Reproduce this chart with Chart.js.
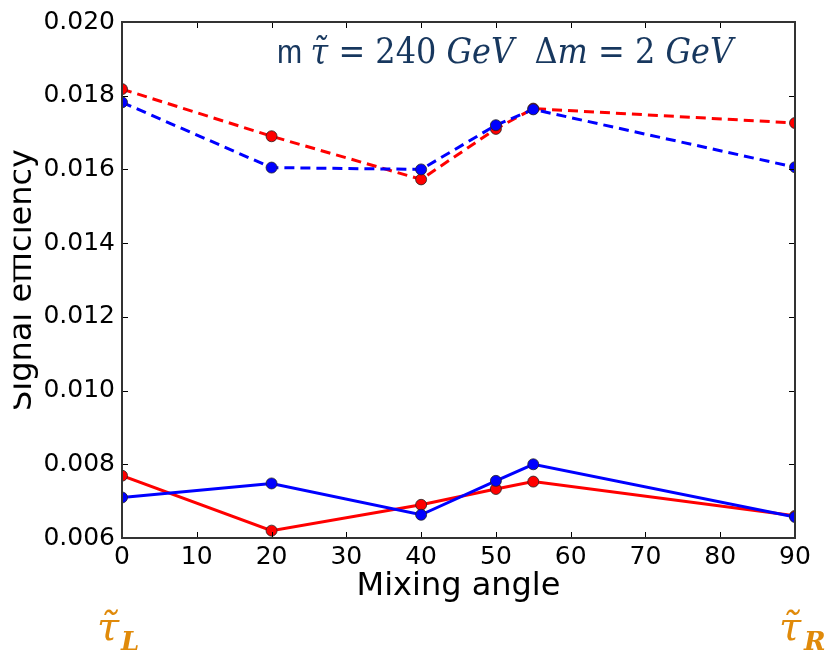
<!DOCTYPE html>
<html>
<head>
<meta charset="utf-8">
<script src="https://cdn.jsdelivr.net/npm/chart.js@4.4.1/dist/chart.umd.min.js"></script>
<style>
  html, body { margin: 0; padding: 0; background: #fff; }
  #wrap { width: 825px; height: 652px; }
</style>
</head>
<body>
<div id="wrap"><canvas id="chart1"></canvas></div>
<script>
'use strict';

// mixing angle (deg)
const angles = [0, 20, 40, 50, 55, 90];
// dashed curves (upper)
const blueDashed = [0.01782, 0.01605, 0.01600, 0.01720, 0.01763, 0.01606];
const redDashed  = [0.01818, 0.01690, 0.01573, 0.01710, 0.01765, 0.01726];
// solid curves (lower)
const blueSolid = [0.00710, 0.00748, 0.00663, 0.00755, 0.00800, 0.00657];
const redSolid  = [0.00769, 0.00620, 0.00690, 0.00733, 0.00753, 0.00660];

const xTicks = [0, 10, 20, 30, 40, 50, 60, 70, 80, 90];
const yTicks = [0.006, 0.008, 0.010, 0.012, 0.014, 0.016, 0.018, 0.020];

function pts(ys) {
    return angles.map(function (a, i) { return {x: a, y: ys[i]}; });
}

function series(ys, color, dashed) {
    return {
        data: pts(ys),
        borderColor: color,
        backgroundColor: color,
        borderWidth: 3,
        borderDash: dashed ? [10, 6] : [],
        pointRadius: 5.5,
        pointBorderColor: '#222',
        pointBorderWidth: 0.8,
        pointBackgroundColor: color,
        tension: 0,
        clip: 0
    };
}

// axes box, inward ticks, titles and annotations
const decor = {
    id: 'decor',
    afterDraw(chart) {
        const ctx = chart.ctx;
        const a = chart.chartArea;
        const x = chart.scales.x, y = chart.scales.y;
        ctx.save();

        ctx.strokeStyle = '#000';
        ctx.lineWidth = 1;
        ctx.beginPath();
        xTicks.forEach(function (t) {
            const px = Math.round(x.getPixelForValue(t)) + 0.5;
            ctx.moveTo(px, a.bottom); ctx.lineTo(px, a.bottom - 6);
            ctx.moveTo(px, a.top); ctx.lineTo(px, a.top + 6);
        });
        yTicks.forEach(function (t) {
            const py = Math.round(y.getPixelForValue(t)) + 0.5;
            ctx.moveTo(a.left, py); ctx.lineTo(a.left + 6, py);
            ctx.moveTo(a.right, py); ctx.lineTo(a.right - 6, py);
        });
        ctx.stroke();

        ctx.strokeStyle = '#333';
        ctx.lineWidth = 2;
        ctx.strokeRect(a.left, a.top, a.right - a.left, a.bottom - a.top);

        // x title
        ctx.fillStyle = '#000';
        ctx.font = '32px "DejaVu Sans"';
        ctx.textAlign = 'center';
        ctx.textBaseline = 'alphabetic';
        ctx.fillText('Mixing angle', (a.left + a.right) / 2, 595);

        // y title, cut by the left edge like the original
        ctx.save();
        ctx.beginPath();
        ctx.rect(13.5, 0, 200, 652);
        ctx.clip();
        ctx.translate(31, (a.top + a.bottom) / 2);
        ctx.rotate(-Math.PI / 2);
        ctx.fillText('Signal efficiency', 0, 0);
        ctx.restore();

        // header
        const parts = [
            ['m ', '34px "Liberation Sans"'],
            ['τ\u0303', 'italic 36px "DejaVu Serif"'],
            [' = 240 ', '36px "DejaVu Serif"'],
            ['GeV', 'italic 36px "DejaVu Serif"'],
            ['  Δ', '36px "DejaVu Serif"'],
            ['m', 'italic 36px "DejaVu Serif"'],
            [' = 2 ', '36px "DejaVu Serif"'],
            ['GeV', 'italic 36px "DejaVu Serif"']
        ];
        ctx.textAlign = 'left';
        ctx.fillStyle = '#17375E';
        let total = 0;
        parts.forEach(function (p) { ctx.font = p[1]; total += ctx.measureText(p[0]).width; });
        const sc = 456 / total;
        ctx.save();
        ctx.translate(277, 63);
        ctx.scale(sc, 1);
        let cx = 0;
        parts.forEach(function (p) {
            ctx.font = p[1];
            ctx.fillText(p[0], cx, 0);
            cx += ctx.measureText(p[0]).width;
        });
        ctx.restore();

        // tau L / tau R labels
        ctx.fillStyle = '#E08A0A';
        ctx.font = 'italic 40px "DejaVu Serif"';
        ctx.fillText('τ\u0303', 97, 640);
        ctx.fillText('τ\u0303', 779, 640);
        ctx.font = 'bold italic 26px "DejaVu Serif"';
        ctx.fillText('L', 121, 650);
        ctx.fillText('R', 804, 650);

        ctx.restore();
    }
};

new Chart(document.getElementById('chart1'), {
    type: 'line',
    data: {
        datasets: [
            series(blueDashed, '#0000FF', true),
            series(redDashed, '#FF0000', true),
            series(blueSolid, '#0000FF', false),
            series(redSolid, '#FF0000', false)
        ]
    },
    options: {
        responsive: true,
        maintainAspectRatio: false,
        animation: false,
        layout: { padding: { top: 17, right: 30, left: 0, bottom: 0 } },
        plugins: {
            legend: { display: false },
            tooltip: { enabled: false }
        },
        scales: {
            x: {
                type: 'linear',
                min: 0, max: 90,
                afterFit: function (s) { s.height = 114; },
                afterBuildTicks: function (s) { s.ticks = xTicks.map(function (v) { return {value: v}; }); },
                grid: { display: false, drawTicks: false },
                border: { display: false },
                ticks: {
                    padding: 4,
                    color: '#000',
                    font: { family: 'DejaVu Sans', size: 25 },
                    maxRotation: 0
                }
            },
            y: {
                type: 'linear',
                min: 0.006, max: 0.020,
                afterFit: function (s) { s.width = 122; },
                afterBuildTicks: function (s) { s.ticks = yTicks.map(function (v) { return {value: v}; }); },
                grid: { display: false, drawTicks: false },
                border: { display: false },
                ticks: {
                    padding: 7,
                    color: '#000',
                    font: { family: 'DejaVu Sans', size: 25 },
                    callback: function (v) { return v.toFixed(3); }
                }
            }
        }
    },
    plugins: [decor]
});
</script>
</body>
</html>
